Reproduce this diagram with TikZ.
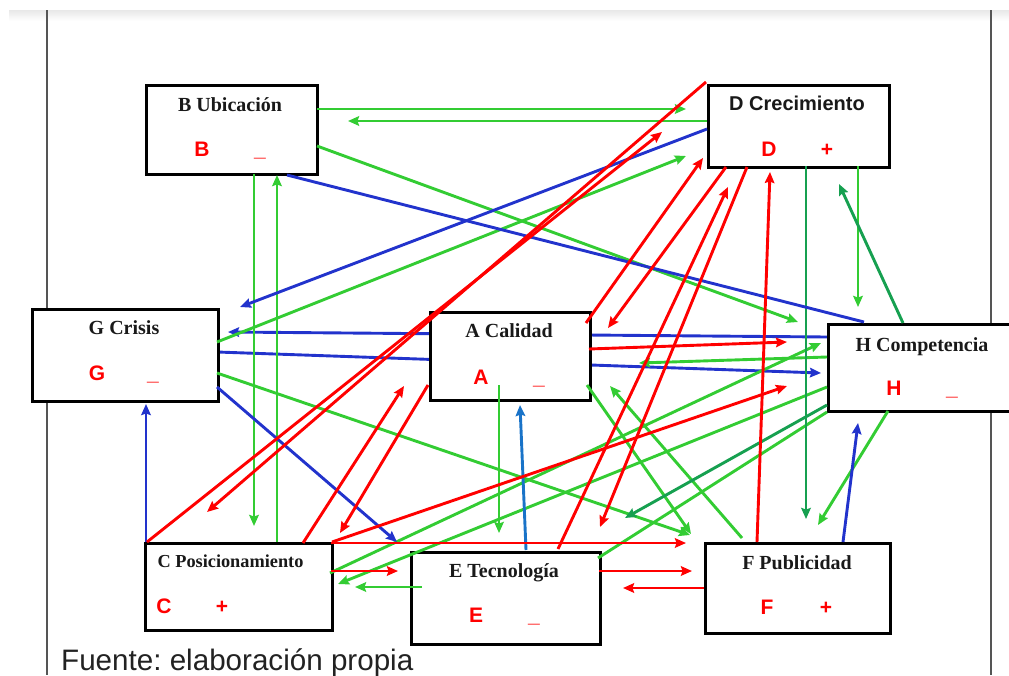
\documentclass[tikz,border=0pt]{standalone}
\usepackage{fontspec}
\setmainfont{Liberation Serif}
\setsansfont{Liberation Sans}
\usetikzlibrary{arrows.meta}
\definecolor{gr}{RGB}{51,204,51}
\definecolor{dg}{RGB}{22,160,80}
\definecolor{bl}{RGB}{34,51,204}
\definecolor{lb}{RGB}{25,115,200}
\definecolor{rd}{RGB}{255,0,0}
\definecolor{framec}{RGB}{85,85,85}
\definecolor{foot}{RGB}{34,34,34}
\frenchspacing
\tikzset{
  box/.style={draw=black, line width=3pt, fill=white, anchor=north west, inner sep=0pt},
  ttl/.style={font=\bfseries\fontsize{20}{20}\selectfont, anchor=base, inner sep=0pt, text=black!90},
  ttls/.style={font=\sffamily\bfseries\fontsize{20}{20}\selectfont, anchor=base, inner sep=0pt, text=black!90},
  sgn/.style={text=rd, font=\sffamily\bfseries\fontsize{21}{21}\selectfont, anchor=base, inner sep=0pt},
  con/.style={line width=2.9pt},
  tip/.style={-{Stealth[length=11pt,width=9.5pt,inset=1.5pt]}},
  gc/.style={con, draw=gr, tip},
  gl/.style={con, draw=gr},
  dgc/.style={con, draw=dg, tip},
  bc/.style={con, draw=bl, tip},
  bln/.style={con, draw=bl},
  lbc/.style={con, draw=lb, tip},
  rc/.style={con, draw=rd, tip},
}
\begin{document}
\begin{tikzpicture}[x=1pt,y=-1pt]
\useasboundingbox (0,0) rectangle (1009,675);
% page background
\shade[top color=black!9, bottom color=white] (9,10) rectangle (1009,21);
\draw[framec, line width=1.5pt] (47,10) -- (47,675);
\draw[framec, line width=1.5pt] (991,10) -- (991,675);

% connectors passing behind box A
\coordinate (b3a) at (827,337); \coordinate (b3b) at (228,332);
\coordinate (b4a) at (217,352); \coordinate (b4b) at (821,373);
\draw[bc] (b3a) -- (b3b);
\draw[bc] (b4a) -- (b4b);

% boxes
\node[box, minimum width=171pt, minimum height=89pt] (B) at (145,84) {};
\node[box, minimum width=181pt, minimum height=82pt] (D) at (707,84) {};
\node[box, minimum width=186pt, minimum height=92pt] (G) at (31,308) {};
\node[box, minimum width=160pt, minimum height=88pt] (A) at (429,311) {};
\node[box, minimum width=215pt, minimum height=87pt] (H) at (827,323) {};
\node[box, minimum width=187pt, minimum height=87pt] (C) at (144,542) {};
\node[box, minimum width=189pt, minimum height=92pt] (E) at (410,551) {};
\node[box, minimum width=185pt, minimum height=90pt] (F) at (704,542) {};

% green
\coordinate (g1a) at (317,109); \coordinate (g1b) at (686,109);
\coordinate (g2a) at (707,121); \coordinate (g2b) at (348,121);
\coordinate (g3a) at (317,146); \coordinate (g3b) at (798,322);
\coordinate (g4a) at (217,342); \coordinate (g4b) at (686,156);
\coordinate (g5a) at (254,174); \coordinate (g5b) at (254,526);
\coordinate (g6a) at (277,542); \coordinate (g6b) at (277,175);
\coordinate (g7a) at (499,385); \coordinate (g7b) at (499,533);
\coordinate (g8a) at (422,587); \coordinate (g8b) at (355,587);
\coordinate (g9a) at (330,573); \coordinate (g9b) at (821,343);
\coordinate (g10a) at (827,387); \coordinate (g10b) at (338,584);
\coordinate (g11a) at (598,558); \coordinate (g11b) at (827,412);
\coordinate (g12a) at (827,357); \coordinate (g12b) at (639,363);
\coordinate (g13a) at (587,385); \coordinate (g13b) at (691,534);
\coordinate (g14a) at (742,538); \coordinate (g14b) at (610,386);
\coordinate (g15a) at (217,373); \coordinate (g15b) at (690,535);
\coordinate (g16a) at (888,411); \coordinate (g16b) at (818,525);
\coordinate (g17a) at (858,166); \coordinate (g17b) at (858,307);
\draw[gc] (g1a) -- (g1b);
\draw[gc] (g2a) -- (g2b);
\draw[gc] (g3a) -- (g3b);
\draw[gc] (g4a) -- (g4b);
\draw[gc] (g5a) -- (g5b);
\draw[gc] (g6a) -- (g6b);
\draw[gc] (g7a) -- (g7b);
\draw[gc] (g8a) -- (g8b);
\draw[gc] (g9a) -- (g9b);
\draw[gc] (g10a) -- (g10b);
\draw[gl] (g11a) -- (g11b);
\draw[gc] (g12a) -- (g12b);
\draw[gc] (g13a) -- (g13b);
\draw[gc] (g14a) -- (g14b);
\draw[gc] (g15a) -- (g15b);
\draw[gc] (g16a) -- (g16b);
\draw[gc] (g17a) -- (g17b);

% dark green
\coordinate (d1a) at (806,166); \coordinate (d1b) at (806,519);
\coordinate (d2a) at (903,323); \coordinate (d2b) at (839,184);
\coordinate (d3a) at (827,405); \coordinate (d3b) at (625,518);
\draw[dgc] (d1a) -- (d1b);
\draw[dgc] (d2a) -- (d2b);
\draw[dgc] (d3a) -- (d3b);

% blue
\coordinate (b1a) at (287,175); \coordinate (b1b) at (864,322);
\coordinate (b2a) at (707,129); \coordinate (b2b) at (240,307);
\coordinate (b5a) at (217,387); \coordinate (b5b) at (397,542);
\coordinate (b6a) at (146,542); \coordinate (b6b) at (146,404);
\coordinate (b7a) at (843,542); \coordinate (b7b) at (858,423);
\coordinate (b8a) at (526,550); \coordinate (b8b) at (520,405);
\draw[bln] (b1a) -- (b1b);
\draw[bc] (b2a) -- (b2b);
\draw[bc] (b5a) -- (b5b);
\draw[bc] (b6a) -- (b6b);
\draw[bc] (b7a) -- (b7b);
\draw[lbc] (b8a) -- (b8b);

% red
\coordinate (r1a) at (706,82);  \coordinate (r1b) at (207,512);
\coordinate (r2a) at (147,542); \coordinate (r2b) at (662,132);
\coordinate (r3a) at (586,323); \coordinate (r3b) at (703,158);
\coordinate (r4a) at (726,167); \coordinate (r4b) at (608,328);
\coordinate (r5a) at (558,549); \coordinate (r5b) at (728,187);
\coordinate (r6a) at (747,167); \coordinate (r6b) at (600,527);
\coordinate (r7a) at (757,542); \coordinate (r7b) at (770,172);
\coordinate (r8a) at (589,349); \coordinate (r8b) at (787,342);
\coordinate (r9a) at (332,542); \coordinate (r9b) at (787,386);
\coordinate (r10a) at (331,543); \coordinate (r10b) at (686,543);
\coordinate (r11a) at (331,571); \coordinate (r11b) at (398,571);
\coordinate (r12a) at (599,571); \coordinate (r12b) at (692,571);
\coordinate (r13a) at (704,588); \coordinate (r13b) at (623,588);
\coordinate (r14a) at (303,543); \coordinate (r14b) at (404,386);
\coordinate (r15a) at (428,385); \coordinate (r15b) at (340,533);
\draw[rc] (r1a) -- (r1b);
\draw[rc] (r2a) -- (r2b);
\draw[rc] (r3a) -- (r3b);
\draw[rc] (r4a) -- (r4b);
\draw[rc] (r5a) -- (r5b);
\draw[rc] (r6a) -- (r6b);
\draw[rc] (r7a) -- (r7b);
\draw[rc] (r8a) -- (r8b);
\draw[rc] (r9a) -- (r9b);
\draw[rc] (r10a) -- (r10b);
\draw[rc] (r11a) -- (r11b);
\draw[rc] (r12a) -- (r12b);
\draw[rc] (r13a) -- (r13b);
\draw[rc] (r14a) -- (r14b);
\draw[rc] (r15a) -- (r15b);

% texts
\node[ttl] (Bt) at (230,111) {B Ubicación};
\node[sgn] (Bl) at (202,156) {B};
\node[sgn] (Bs) at (260,156) {\_};
\node[ttls] (Dt) at (797,110) {D Crecimiento};
\node[sgn] (Dl) at (769,156) {D};
\node[sgn] (Ds) at (827,156) {+};
\node[ttl] (Gt) at (124,334) {G Crisis};
\node[sgn] (Gl) at (97,380) {G};
\node[sgn] (Gs) at (153,380) {\_};
\node[ttl] (At) at (509,337) {A Calidad};
\node[sgn] (Al) at (481,384) {A};
\node[sgn] (As) at (539,384) {\_};
\node[ttl] (Ht) at (922,351) {H Competencia};
\node[sgn] (Hl) at (894,395) {H};
\node[sgn] (Hs) at (952,395) {\_};
\node[ttl, font=\bfseries\fontsize{18.3}{18.3}\selectfont] (Ct) at (230.5,567) {C Posicionamiento};
\node[sgn] (Cl) at (164,613) {C};
\node[sgn] (Cs) at (222,613) {+};
\node[ttl] (Et) at (504,577) {E Tecnología};
\node[sgn] (El) at (476,622) {E};
\node[sgn] (Es) at (534,622) {\_};
\node[ttl] (Ft) at (797,569) {F Publicidad};
\node[sgn] (Fl) at (767,614) {F};
\node[sgn] (Fs) at (826,614) {+};
\node[anchor=base west, inner sep=0pt, text=foot, font=\sffamily\fontsize{29.6}{29.6}\selectfont] (foot) at (61,670) {Fuente: elaboración propia};
\end{tikzpicture}
\end{document}
